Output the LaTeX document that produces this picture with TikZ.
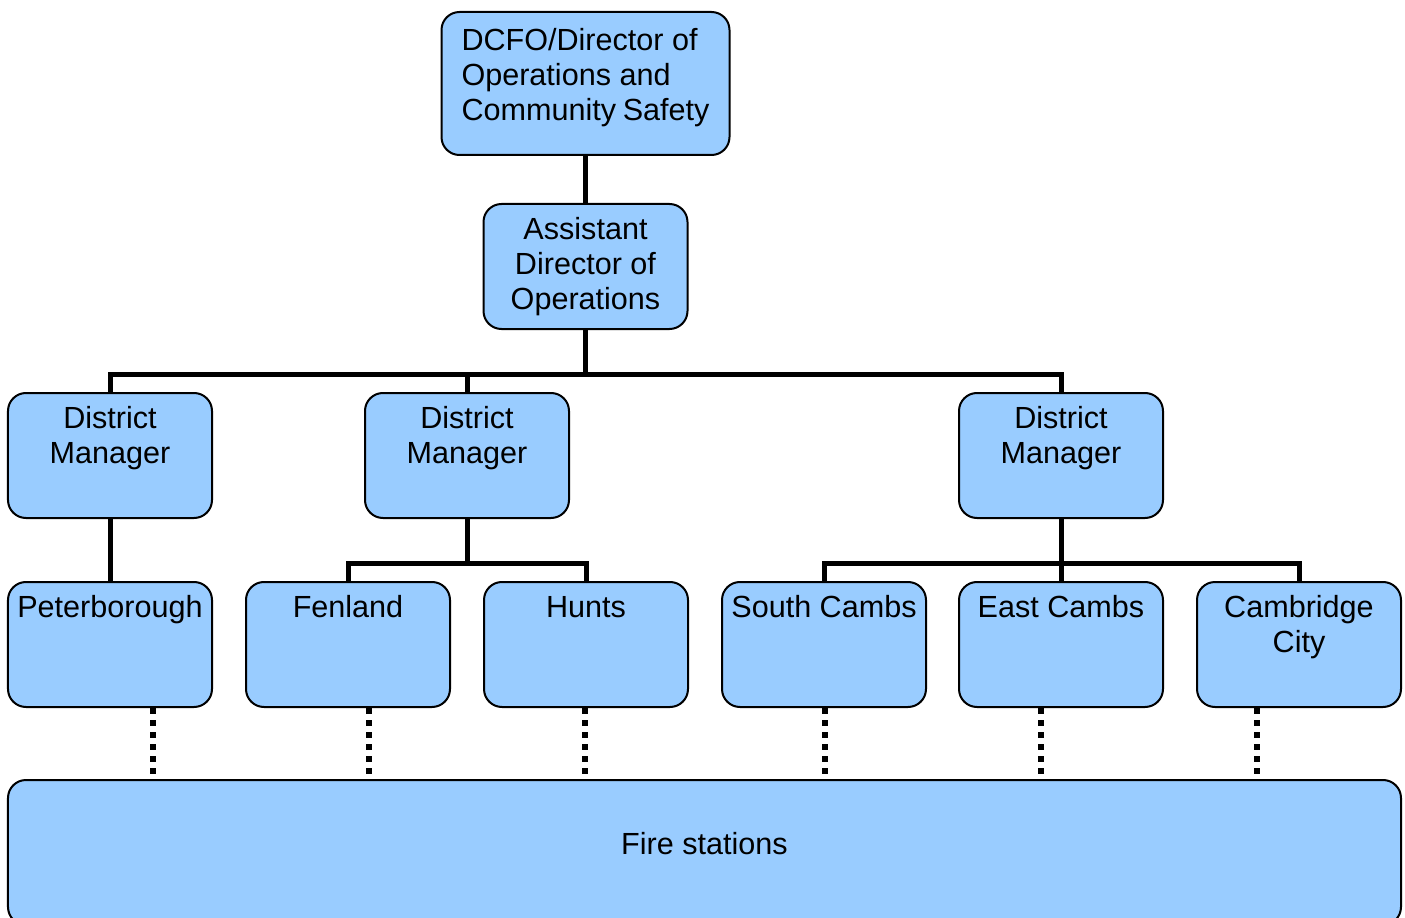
\documentclass[tikz,border=0pt]{standalone}
\usepackage{fontspec}
\setmainfont{Liberation Sans}
\usepackage{tikz}
\definecolor{boxblue}{RGB}{153,204,255}
\newcommand{\unittext}[4][\centering]{\parbox[c][#3][t]{#2}{#1\vspace*{0.23cm}\strut#4}}

\begin{document}
\begin{tikzpicture}[
  every node/.style={font={\fontsize{17.4}{19.9}\selectfont}},
  unit/.style={draw,line width=0.04cm,fill=boxblue,rounded corners=0.36cm,inner sep=0pt},
  link/.style={line width=0.1cm},
  stn/.style={line width=0.11cm,dash pattern=on 0.12cm off 0.12cm}
]
\useasboundingbox (0,0) rectangle (28.1,-18.36);

\node[unit,inner xsep=0.4cm] (dcfo) at (11.71,-1.67)
  {\unittext[\raggedright\vspace*{0.06cm}]{4.96cm}{2.86cm}{DCFO/Director~of\\Operations~and\\Community~Safety}};

\node[unit] (adops) at (11.71,-5.33)
  {\unittext{4.08cm}{2.5cm}{Assistant\\Director of\\Operations}};

\node[unit] (dm1) at (2.20,-9.11) {\unittext{4.08cm}{2.5cm}{District\\Manager}};
\node[unit] (dm2) at (9.34,-9.11) {\unittext{4.08cm}{2.5cm}{District\\Manager}};
\node[unit] (dm3) at (21.22,-9.11) {\unittext{4.08cm}{2.5cm}{District\\Manager}};

\node[unit] (pb) at (2.20,-12.89) {\unittext{4.08cm}{2.5cm}{Peterborough}};
\node[unit] (fen) at (6.96,-12.89) {\unittext{4.08cm}{2.5cm}{Fenland}};
\node[unit] (hunts) at (11.72,-12.89) {\unittext{4.08cm}{2.5cm}{Hunts}};
\node[unit] (sc) at (16.48,-12.89) {\unittext{4.08cm}{2.5cm}{South Cambs}};
\node[unit] (ec) at (21.22,-12.89) {\unittext{4.08cm}{2.5cm}{East Cambs}};
\node[unit] (cc) at (25.98,-12.89) {\unittext{4.08cm}{2.5cm}{Cambridge\\City}};

\node[unit,minimum width=27.86cm,minimum height=2.9cm,text height=0.45cm,text depth=0.39cm]
  (fire) at (14.09,-17.05) {Fire stations};

\coordinate (bus) at (0,-7.48);
\coordinate (sub) at (0,-11.26);

\draw[link] (dcfo) -- (adops);
\draw[link] (adops.south) -- (adops.south |- bus);
\draw[link] (dm1.north) |- (dm3.north |- bus) -- (dm3.north);
\draw[link] (dm2.north) -- (dm2.north |- bus);

\draw[link] (dm1) -- (pb);
\draw[link] (dm2.south) -- (dm2.south |- sub);
\draw[link] (fen.north) |- (hunts.north |- sub) -- (hunts.north);
\draw[link] (dm3) -- (ec);
\draw[link] (sc.north) |- (cc.north |- sub) -- (cc.north);

\draw[stn] ([xshift=0.86cm]pb.south) -- ([xshift=0.86cm]pb.south |- fire.north);
\draw[stn] ([xshift=0.42cm]fen.south) -- ([xshift=0.42cm]fen.south |- fire.north);
\draw[stn] ([xshift=-0.02cm]hunts.south) -- ([xshift=-0.02cm]hunts.south |- fire.north);
\draw[stn] ([xshift=0.02cm]sc.south) -- ([xshift=0.02cm]sc.south |- fire.north);
\draw[stn] ([xshift=-0.4cm]ec.south) -- ([xshift=-0.4cm]ec.south |- fire.north);
\draw[stn] ([xshift=-0.84cm]cc.south) -- ([xshift=-0.84cm]cc.south |- fire.north);

\end{tikzpicture}
\end{document}
